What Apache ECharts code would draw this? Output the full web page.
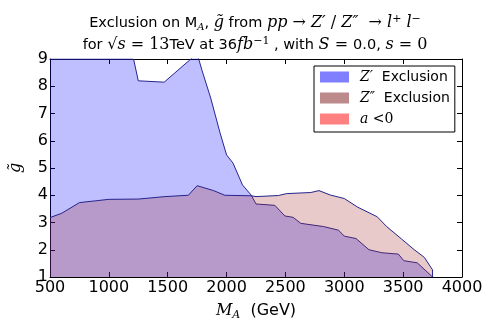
<!DOCTYPE html>
<html>
<head>
<meta charset="utf-8">
<script src="https://cdn.jsdelivr.net/npm/echarts@6/dist/echarts.min.js"></script>
<style>
    html, body { margin: 0; padding: 0; background: #fff; }
    #myChart { width: 491px; height: 327px; }
</style>
</head>
<body>
<div id="myChart"></div>
<script>
// Z' exclusion boundary  [M_A (GeV), g~]
var zpMass = [500, 1000, 1210, 1250, 1470, 1750, 1790, 1865, 1945, 2000, 2055, 2135, 2210,
    2250, 2410, 2495, 2565, 2630, 2825, 2950, 3000, 3100, 3210, 3320, 3460, 3505, 3620, 3750];
var zpCoup = [9.0, 9.0, 9.0, 8.2, 8.15, 9.2, 8.6, 7.57, 6.28, 5.48, 5.18, 4.38, 4.0,
    3.68, 3.63, 3.24, 3.19, 2.97, 2.85, 2.72, 2.5, 2.41, 2.0, 1.89, 1.84, 1.6, 1.52, 1.0];

// Z'' exclusion boundary
var zppMass = [500, 600, 750, 875, 1000, 1250, 1475, 1675, 1750, 1890, 1985, 2210, 2250,
    2440, 2510, 2715, 2785, 2880, 3000, 3115, 3280, 3360, 3485, 3595, 3680, 3750, 3750];
var zppCoup = [3.18, 3.34, 3.73, 3.79, 3.85, 3.86, 3.95, 4.0, 4.35, 4.17, 4.0, 3.98, 3.95,
    3.99, 4.06, 4.1, 4.17, 4.01, 3.88, 3.56, 3.21, 2.85, 2.4, 2.0, 1.72, 1.26, 1.0];

var xTicks = [500, 4000, 500];   // min, max, step
var yTicks = [1, 9, 1];

function pairs(xs, ys) {
    var out = [];
    for (var i = 0; i < xs.length; i++) {
        out.push([xs[i], ys[i]]);
    }
    return out;
}

var sans = 'DejaVu Sans';
var serif = 'DejaVu Serif';
var edge = '#24248f';

var myChart = echarts.init(document.getElementById('myChart'));

// rich text pieces for the mathtext bits
var titleRich = {
    t: {fontFamily: sans, fontSize: 14.5, fontWeight: 'normal', color: '#000', lineHeight: 22},
    m: {fontFamily: serif, fontStyle: 'italic', fontWeight: 'normal', fontSize: 16, color: '#000', lineHeight: 22},
    r: {fontFamily: serif, fontSize: 16, fontWeight: 'normal', color: '#000', lineHeight: 22},
    sub: {fontFamily: serif, fontStyle: 'italic', fontWeight: 'normal', fontSize: 10, color: '#000', lineHeight: 22, padding: [8, 0, 0, 0]},
    sup: {fontFamily: serif, fontSize: 11, fontWeight: 'normal', color: '#000', lineHeight: 22, padding: [0, 0, 8, 0]}
};

var line1 = '{t|Exclusion on M}{sub|A}{t|, }{m|g̃}{t| from }{m|pp}{r| → }{m|Z′}{r| / }{m|Z″}{r|  → }{m|l}{sup|+}{m| l}{sup|−}';
var line2 = '{t|for }{r|√}{m|s}{r| = 13}{t|TeV at 36}{m|fb}{sup|−1}{t| , with }{m|S}{r| = }{t|0.0, }{m|s}{r| = 0}';

var legendNames = {
    zp: '{m|Z′}{t|  Exclusion}',
    zpp: '{m|Z″}{t|  Exclusion}',
    aneg: '{m|a}{r| <0}'
};

var option = {
    animation: false,
    title: {
        left: 250,
        top: 7,
        textAlign: 'center',
        text: line1 + '\n' + line2,
        textStyle: {fontWeight: 'normal', rich: titleRich}
    },
    legend: {
        orient: 'vertical',
        left: 314,
        top: 66,
        padding: [4, 5, 6, 6],
        itemWidth: 29,
        itemHeight: 11,
        itemGap: 7,
        icon: 'rect',
        borderColor: '#000',
        borderWidth: 1,
        backgroundColor: '#fff',
        formatter: function (name) {
            return legendNames[name];
        },
        textStyle: {
            padding: [0, 0, 0, 6],
            rich: {
                t: {fontFamily: sans, fontSize: 14, color: '#000', lineHeight: 14},
                m: {fontFamily: serif, fontStyle: 'italic', fontSize: 14, color: '#000', lineHeight: 14},
                r: {fontFamily: serif, fontSize: 14, color: '#000', lineHeight: 14}
            }
        },
        data: [
            {name: 'zp', itemStyle: {color: '#8080ff', borderWidth: 0}},
            {name: 'zpp', itemStyle: {color: '#bc8a8a', borderWidth: 0}},
            {name: 'aneg', itemStyle: {color: '#ff8080', borderWidth: 0}}
        ]
    },
    grid: {
        left: 39,
        right: 29,
        top: 59,
        bottom: 50
    },
    xAxis: [{
        type: 'value',
        min: xTicks[0],
        max: xTicks[1],
        interval: xTicks[2],
        name: '{m|M}{sub|A}{t|  (GeV)}',
        nameLocation: 'middle',
        nameGap: 24,
        nameTextStyle: {
            rich: {
                t: {fontFamily: sans, fontSize: 16, color: '#000'},
                m: {fontFamily: serif, fontStyle: 'italic', fontSize: 16, color: '#000'},
                sub: {fontFamily: serif, fontStyle: 'italic', fontSize: 11, color: '#000', padding: [9, 0, 0, 0]}
            }
        },
        axisLine: {lineStyle: {color: '#000', width: 1}},
        axisTick: {inside: true, length: 5, lineStyle: {color: '#000'}},
        axisLabel: {
            fontFamily: sans, fontSize: 16, color: '#000', margin: 3,
            formatter: function (v) { return String(v); }
        },
        splitLine: {show: false}
    }, {
        type: 'value',
        position: 'top',
        min: xTicks[0],
        max: xTicks[1],
        interval: xTicks[2],
        axisLine: {lineStyle: {color: '#000', width: 1}},
        axisTick: {inside: true, length: 5, lineStyle: {color: '#000'}},
        axisLabel: {show: false},
        splitLine: {show: false}
    }],
    yAxis: [{
        type: 'value',
        min: yTicks[0],
        max: yTicks[1],
        interval: yTicks[2],
        name: 'g̃',
        nameLocation: 'middle',
        nameRotate: 90,
        nameGap: 26,
        nameTextStyle: {fontFamily: serif, fontStyle: 'italic', fontSize: 16, color: '#000'},
        axisLine: {lineStyle: {color: '#000', width: 1}},
        axisTick: {inside: true, length: 5, lineStyle: {color: '#000'}},
        axisLabel: {fontFamily: sans, fontSize: 16, color: '#000', margin: 2},
        splitLine: {show: false}
    }, {
        type: 'value',
        position: 'right',
        min: yTicks[0],
        max: yTicks[1],
        interval: yTicks[2],
        axisLine: {lineStyle: {color: '#000', width: 1}},
        axisTick: {inside: true, length: 5, lineStyle: {color: '#000'}},
        axisLabel: {show: false},
        splitLine: {show: false}
    }],
    series: [
        {
            name: 'zp',
            type: 'line',
            data: pairs(zpMass, zpCoup),
            showSymbol: false,
            symbol: 'none',
            clip: true,
            lineStyle: {color: edge, width: 1},
            itemStyle: {color: '#8080ff'},
            areaStyle: {color: 'rgba(0,0,255,0.25)', origin: 'start', opacity: 1},
            z: 1
        },
        {
            name: 'zpp',
            type: 'line',
            data: pairs(zppMass, zppCoup),
            showSymbol: false,
            symbol: 'none',
            clip: true,
            lineStyle: {color: edge, width: 1},
            itemStyle: {color: '#bc8a8a'},
            areaStyle: {color: 'rgba(165,42,42,0.25)', origin: 'start', opacity: 1},
            z: 2
        },
        {
            name: 'aneg',
            type: 'line',
            data: [],
            itemStyle: {color: '#ff8080'}
        }
    ]
};

myChart.setOption(option);
</script>
</body>
</html>
